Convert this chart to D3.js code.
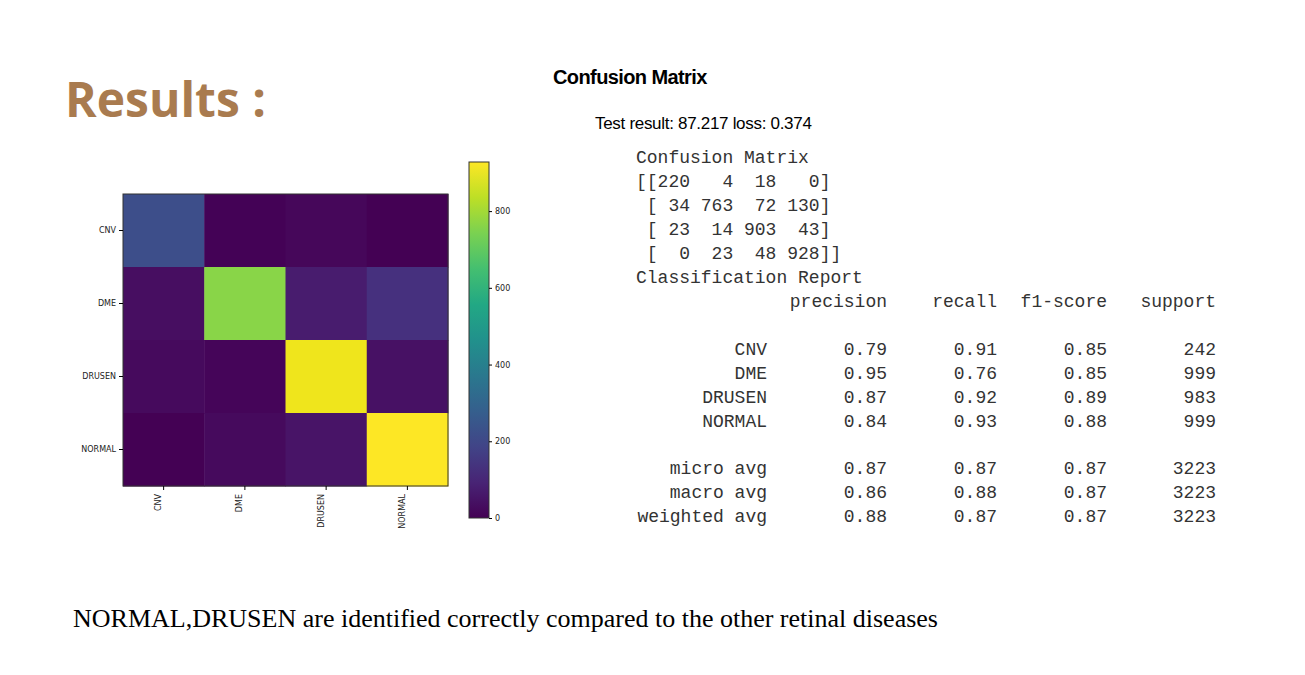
<!DOCTYPE html><html><head><meta charset="utf-8"><script src="https://cdn.jsdelivr.net/npm/d3@7"></script>
<style>body{margin:0;background:#fff}</style></head><body><svg id="s" width="1305" height="675"></svg>
<script>
const classes=["CNV","DME","DRUSEN","NORMAL"];
const matrix=[[220,4,18,0],[34,763,72,130],[23,14,903,43],[0,23,48,928]];
const colorTicks=[0,200,400,600,800];
const reportHeader=["precision","recall","f1-score","support"];
const reportRows=[["CNV","0.79","0.91","0.85","242"],["DME","0.95","0.76","0.85","999"],["DRUSEN","0.87","0.92","0.89","983"],["NORMAL","0.84","0.93","0.88","999"]];
const avgRows=[["micro avg","0.87","0.87","0.87","3223"],["macro avg","0.86","0.88","0.87","3223"],["weighted avg","0.88","0.87","0.87","3223"]];
const svg=d3.select("#s");
svg.append("text").attr("x",65).attr("y",117).attr("font-family","Open Sans, Lato, sans-serif").attr("font-weight",700).attr("font-size",48).attr("fill","#a97b4f").text("Results :");
svg.append("text").attr("x",553).attr("y",84).attr("font-family","Liberation Sans, Arial").attr("font-weight",700).attr("font-size",20).attr("letter-spacing",-0.6).text("Confusion Matrix");
svg.append("text").attr("x",595).attr("y",129).attr("font-family","Liberation Sans, Arial").attr("font-size",17).attr("letter-spacing",-0.3).text("Test result: 87.217 loss: 0.374");
svg.append("text").attr("x",73).attr("y",627).attr("font-family","Liberation Serif, serif").attr("font-size",26).text("NORMAL,DRUSEN are identified correctly compared to the other retinal diseases");
// heatmap
const x=d3.scaleBand().domain(classes).range([123,448]);
const y=d3.scaleBand().domain(classes).range([194,486]);
const vmax=d3.max(matrix.flat());
const c=d3.scaleSequential(d3.interpolateViridis).domain([0,vmax]);
const g=svg.append("g");
matrix.forEach((row,i)=>row.forEach((v,j)=>g.append("rect").attr("x",x(classes[j])).attr("y",y(classes[i])).attr("width",x.bandwidth()+0.5).attr("height",y.bandwidth()+0.5).attr("fill",c(v))));
g.append("rect").attr("x",123).attr("y",194).attr("width",325).attr("height",292).attr("fill","none").attr("stroke","#333").attr("stroke-width",1);
const ay=svg.append("g").attr("transform","translate(123,0)").call(d3.axisLeft(y).tickSize(4).tickSizeOuter(0));
const ax=svg.append("g").attr("transform","translate(0,486)").call(d3.axisBottom(x).tickSize(4).tickSizeOuter(0));
[ay,ax].forEach(a=>{a.select(".domain").remove();a.selectAll("text").attr("font-size",8).attr("font-family","DejaVu Sans").attr("fill","#222");});
ax.selectAll("text").attr("transform","rotate(-90)").attr("text-anchor","end").attr("dx","-0.5em").attr("dy","-0.3em").attr("y",0).attr("x",-4);
// colorbar
const cy=d3.scaleLinear().domain([0,vmax]).range([518,162]);
const defs=svg.append("defs");const lg=defs.append("linearGradient").attr("id","cb").attr("x1",0).attr("y1",1).attr("x2",0).attr("y2",0);
d3.range(0,1.01,0.1).forEach(t=>lg.append("stop").attr("offset",t).attr("stop-color",d3.interpolateViridis(t)));
svg.append("rect").attr("x",469).attr("y",162).attr("width",20).attr("height",356).attr("fill","url(#cb)").attr("stroke","#333");
const ac=svg.append("g").attr("transform","translate(489,0)").call(d3.axisRight(cy).tickValues(colorTicks).tickSize(3).tickSizeOuter(0));
ac.select(".domain").remove();ac.selectAll("text").attr("font-size",8).attr("font-family","DejaVu Sans").attr("fill","#222");
// text report
const mono={"font-family":"Liberation Mono, DejaVu Sans Mono, monospace","font-size":18,"fill":"#333"};
function t(xx,yy,s,anchor){const e=svg.append("text").attr("x",xx).attr("y",yy).attr("text-anchor",anchor||"start").style("white-space","pre").text(s);for(const k in mono)e.attr(k,mono[k]);return e;}
t(636,163,"Confusion Matrix");
const pad=v=>String(v).padStart(3," ");
matrix.forEach((r,i)=>t(636,187+i*24,(i==0?"[[":" [")+r.map(pad).join(" ")+(i==3?"]]":"]")));
t(636,283,"Classification Report");
const cols=[767,887,997,1107,1216];
reportHeader.forEach((h,k)=>t(cols[k+1],307,h,"end"));
reportRows.forEach((r,i)=>r.forEach((v,k)=>t(cols[k],355+i*24,v,"end")));
avgRows.forEach((r,i)=>r.forEach((v,k)=>t(cols[k],474+i*24,v,"end")));
</script></body></html>
